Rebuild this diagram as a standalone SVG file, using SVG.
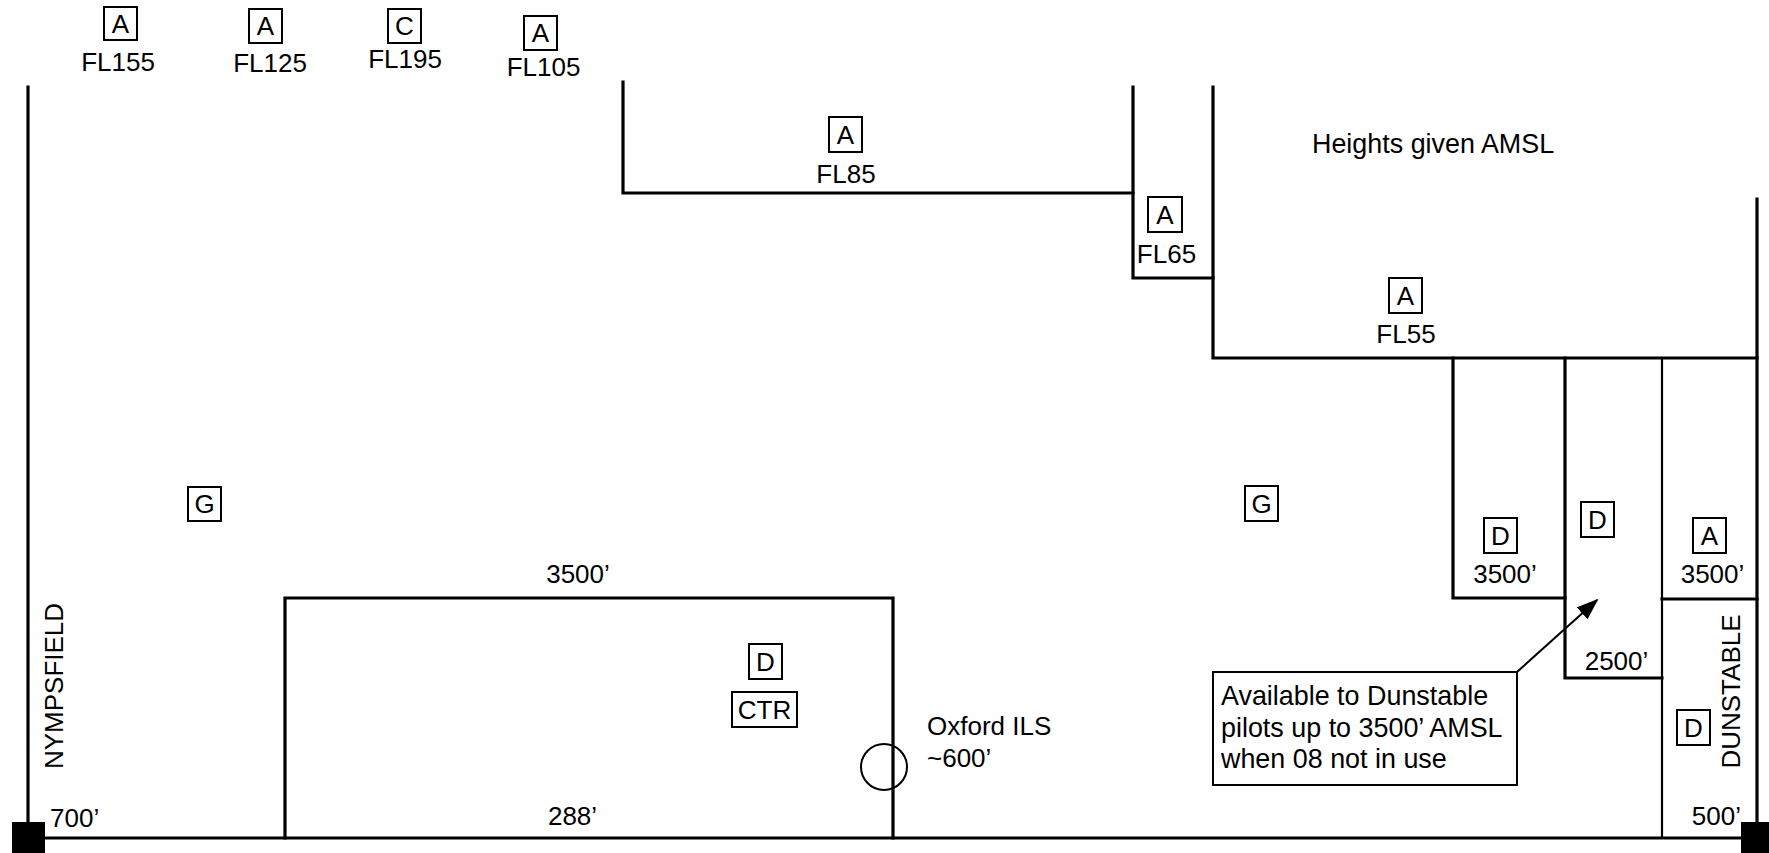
<svg xmlns="http://www.w3.org/2000/svg" width="1769" height="853" viewBox="0 0 1769 853">
<style>
text{font-family:"Liberation Sans",Arial,sans-serif;font-size:26px;fill:#000}
.big{font-size:26.9px}
.c{text-anchor:middle}
.e{text-anchor:end}
.bx{fill:#fff;stroke:#000;stroke-width:2}
.th{fill:none;stroke:#000;stroke-width:3.2;stroke-linecap:square}
.tn{fill:none;stroke:#000;stroke-width:2.2}
.ar{fill:none;stroke:#000;stroke-width:2}
</style>
<defs>
<marker id="ah" markerWidth="22" markerHeight="16" refX="20" refY="8" orient="auto" markerUnits="userSpaceOnUse">
<path d="M0,0 L22,8 L0,16 z" fill="#000"/>
</marker>
</defs>
<rect width="1769" height="853" fill="#fff"/>
<g id="connectors">
<path class="th" d="M28,87 V822"/>
<path class="th" d="M1757,199 V822"/>
<path class="th" d="M14,838 H1755"/>
<path class="th" d="M623,82 V193 H1133"/>
<path class="th" d="M1133,87 V278 H1213"/>
<path class="th" d="M1213,87 V358 H1757"/>
<path class="th" d="M1453,358 V598 H1565"/>
<path class="th" d="M1565,358 V678 H1662"/>
<path class="tn" d="M1662,358 V838"/>
<path class="th" d="M1662,599 H1757"/>
<path class="th" d="M285,838 V598 H893 V838"/>
<circle cx="884" cy="767" r="23" class="ar"/>
<line x1="1517" y1="672" x2="1597" y2="600" class="ar" marker-end="url(#ah)"/>
<rect x="12" y="822" width="33" height="31" fill="#000"/>
<rect x="1741" y="822" width="33" height="31" fill="#000"/>
</g>
<g id="fl155"><rect class="bx" x="104" y="7" width="33" height="33"/><text class="c" x="120.5" y="33">A</text><text class="c" x="118" y="71">FL155</text></g>
<g id="fl125"><rect class="bx" x="249" y="9" width="33" height="34"/><text class="c" x="265.5" y="35">A</text><text class="c" x="270" y="72">FL125</text></g>
<g id="fl195"><rect class="bx" x="388" y="9" width="33" height="34"/><text class="c" x="404.5" y="35">C</text><text class="c" x="405" y="68">FL195</text></g>
<g id="fl105"><rect class="bx" x="524" y="16" width="33" height="34"/><text class="c" x="540.5" y="42">A</text><text class="c" x="543.5" y="76">FL105</text></g>
<g id="fl85"><rect class="bx" x="829" y="117" width="33" height="35"/><text class="c" x="845.5" y="144">A</text><text class="c" x="846" y="183">FL85</text></g>
<g id="fl65"><rect class="bx" x="1148" y="197" width="34" height="35"/><text class="c" x="1165" y="224">A</text><text class="c" x="1166.5" y="263">FL65</text></g>
<g id="fl55"><rect class="bx" x="1389" y="278" width="33" height="35"/><text class="c" x="1405.5" y="305">A</text><text class="c" x="1406" y="343">FL55</text></g>
<g id="heights"><text class="big" x="1312" y="153">Heights given AMSL</text></g>
<g id="g-left"><rect class="bx" x="188" y="487" width="33" height="34"/><text class="c" x="204.5" y="513">G</text></g>
<g id="g-right"><rect class="bx" x="1245" y="486" width="33" height="35"/><text class="c" x="1261.5" y="513">G</text></g>
<g id="d-3500"><rect class="bx" x="1484" y="518" width="33" height="35"/><text class="c" x="1500.5" y="545">D</text><text class="c" x="1505" y="583">3500’</text></g>
<g id="d-2500"><rect class="bx" x="1581" y="502" width="33" height="35"/><text class="c" x="1597.5" y="529">D</text><text class="c" x="1616.5" y="670">2500’</text></g>
<g id="a-3500"><rect class="bx" x="1693" y="518" width="33" height="35"/><text class="c" x="1709.5" y="545">A</text><text class="c" x="1712.5" y="583">3500’</text></g>
<g id="dunstable"><rect class="bx" x="1677" y="710" width="33" height="35"/><text class="c" x="1693.5" y="737">D</text><text class="c" transform="translate(1740,691.5) rotate(-90)">DUNSTABLE</text><text class="e" x="1741" y="825">500’</text></g>
<g id="ctr"><text class="c" x="578" y="583">3500’</text><rect class="bx" x="749" y="644" width="33" height="35"/><text class="c" x="765.5" y="671">D</text><rect class="bx" x="732" y="692" width="65" height="35"/><text class="c" x="764.5" y="719">CTR</text><text class="c" x="572.5" y="825">288’</text></g>
<g id="nympsfield"><text class="c" transform="translate(63,686) rotate(-90)">NYMPSFIELD</text><text x="50" y="827">700’</text></g>
<g id="oxford"><text x="927" y="735">Oxford ILS</text><text x="927" y="767">~600’</text></g>
<g id="note"><rect class="bx" x="1213" y="672" width="304" height="113"/><text class="big" x="1221" y="705">Available to Dunstable</text><text class="big" x="1221" y="737">pilots up to 3500’ AMSL</text><text class="big" x="1221" y="768">when 08 not in use</text></g>
</svg>
